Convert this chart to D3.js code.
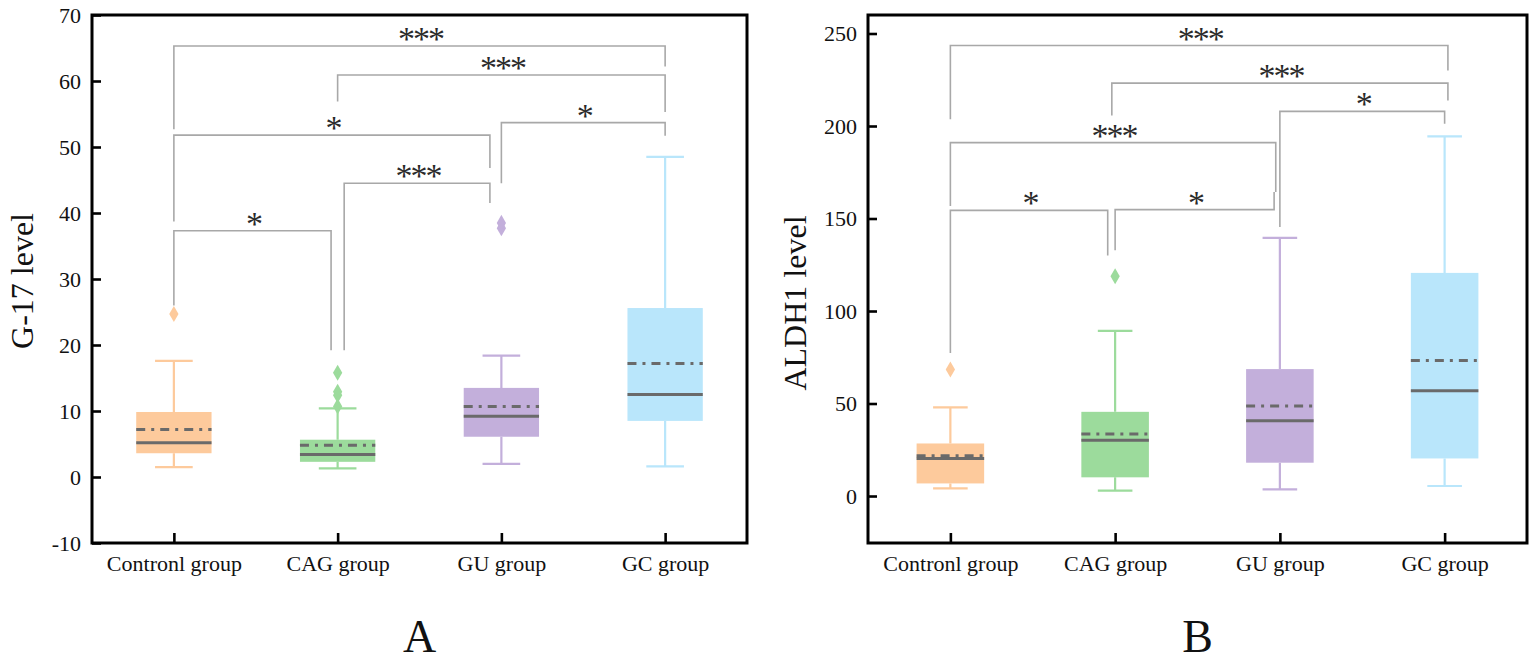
<!DOCTYPE html>
<html>
<head>
<meta charset="utf-8">
<script src="https://cdn.jsdelivr.net/npm/d3@7"></script>
<style>
  body { margin: 0; background: #fff; }
  text { font-family: "Liberation Serif", "DejaVu Serif", serif; }
</style>
</head>
<body>
<svg id="chart" width="1535" height="662"></svg>
<script>
// categories and colours
const groups = ['Contronl group', 'CAG group', 'GU group', 'GC group'];
const boxColors = ['#fdca9c', '#9cdb9c', '#c3afdb', '#b9e6fb'];

// panel A : G-17
const g17Ticks = [-10, 0, 10, 20, 30, 40, 50, 60, 70];
const g17Low = [1.5, 1.3, 2.0, 1.6];
const g17Q1 = [3.6, 2.3, 6.1, 8.5];
const g17Median = [5.2, 3.4, 9.2, 12.5];
const g17Mean = [7.2, 4.8, 10.7, 17.2];
const g17Q3 = [9.85, 5.65, 13.5, 25.6];
const g17High = [17.6, 10.4, 18.4, 48.5];
const g17Outliers = [[24.7], [10.7, 12.4, 12.9, 15.8], [37.7, 38.5], []];
const g17Pairs = [[0, 3], [1, 3], [2, 3], [0, 2], [1, 2], [0, 1]];
const g17BarY = [65.3, 60.9, 53.7, 51.8, 44.5, 37.3];
const g17LegEnd = [[52.7, 62.2], [56.9, 55.3], [44.5, 51.7], [38.7, 46.8], [19.2, 41.5], [26, 19.2]];
const g17Stars = ['***', '***', '*', '*', '***', '*'];
const g17Nudge = [[0, 0], [0, 0], [0, 0], [0, -0.07], [0.04, -0.07], [0, -0.04]];

// panel B : ALDH1
const aldhTicks = [0, 50, 100, 150, 200, 250];
const aldhLow = [4.1, 2.9, 3.6, 5.4];
const aldhQ1 = [6.8, 10.1, 18.0, 20.3];
const aldhMedian = [20.3, 30.2, 40.7, 56.9];
const aldhMean = [21.8, 33.5, 48.6, 73.3];
const aldhQ3 = [28.4, 45.5, 68.6, 120.6];
const aldhHigh = [47.9, 89.3, 139.5, 194.4];
const aldhOutliers = [[68.4], [118.8], [], []];
const aldhPairs = [[0, 3], [1, 3], [2, 3], [0, 2], [1, 2], [0, 1]];
const aldhBarY = [243.5, 223.2, 207.9, 191, 154.8, 154.4];
const aldhLegEnd = [[203.6, 230], [205.7, 213.8], [145.4, 201.2], [156.8, 164.3], [132.8, 164.3], [77.3, 130]];
const aldhStars = ['***', '***', '*', '***', '*', '*'];
const aldhNudge = [[0, 0.02], [-0.02, 0.02], [0, 0], [0, -0.025], [0, -0.035], [0, -0.045]];

const svg = d3.select('#chart');

function drawPanel(p) {
  const x = d3.scalePoint().domain(groups).range([p.left, p.right]).padding(0.5);
  const y = d3.scaleLinear().domain(p.domain).range([p.bottom, p.top]);
  const step = x.step();
  const g = svg.append('g');

  const boxes = groups.map((name, i) => ({
    name, i, low: p.low[i], q1: p.q1[i], median: p.median[i], mean: p.mean[i],
    q3: p.q3[i], high: p.high[i], outliers: p.outliers[i], color: boxColors[i]
  }));

  // significance brackets
  p.pairs.forEach(([a, b], k) => {
    const x1 = x(groups[a]) + p.nudge[k][0] * step;
    const x2 = x(groups[b]) + p.nudge[k][1] * step;
    const yb = y(p.barY[k]);
    g.append('path')
      .attr('d', `M${x1},${y(p.legEnd[k][0])}V${yb}H${x2}V${y(p.legEnd[k][1])}`)
      .attr('fill', 'none')
      .attr('stroke', '#a8a8a8')
      .attr('stroke-width', 1.6);
    g.append('text')
      .attr('x', (x1 + x2) / 2 + 1)
      .attr('y', yb + 4)
      .attr('text-anchor', 'middle')
      .attr('font-size', 34)
      .attr('letter-spacing', -2)
      .attr('fill', '#2a2a2a')
      .text(p.stars[k]);
  });

  const bw = p.boxFrac * step;
  const cw = p.capFrac * step;
  const bg = g.selectAll('.box').data(boxes).join('g').attr('class', 'box');

  // whiskers
  bg.append('path')
    .attr('d', d => {
      const cx = x(d.name);
      return `M${cx},${y(d.q1)}V${y(d.low)}M${cx - cw / 2},${y(d.low)}H${cx + cw / 2}` +
        `M${cx},${y(d.q3)}V${y(d.high)}M${cx - cw / 2},${y(d.high)}H${cx + cw / 2}`;
    })
    .attr('fill', 'none')
    .attr('stroke', d => d.color)
    .attr('stroke-width', 2.2);

  bg.append('rect')
    .attr('x', d => x(d.name) - bw / 2)
    .attr('width', bw)
    .attr('y', d => y(d.q3))
    .attr('height', d => y(d.q1) - y(d.q3))
    .attr('fill', d => d.color);

  bg.append('line')
    .attr('x1', d => x(d.name) - bw / 2)
    .attr('x2', d => x(d.name) + bw / 2)
    .attr('y1', d => y(d.median))
    .attr('y2', d => y(d.median))
    .attr('stroke', '#6a6a6a')
    .attr('stroke-width', 3);

  bg.append('line')
    .attr('x1', d => x(d.name) - bw / 2)
    .attr('x2', d => x(d.name) + bw / 2)
    .attr('y1', d => y(d.mean))
    .attr('y2', d => y(d.mean))
    .attr('stroke', '#6a6a6a')
    .attr('stroke-width', 3)
    .attr('stroke-dasharray', '9,6,3,6');

  const diamond = d3.symbol().type(d3.symbolDiamond).size(75);
  bg.selectAll('.outlier')
    .data(d => d.outliers.map(v => ({ v, name: d.name, color: d.color })))
    .join('path')
    .attr('class', 'outlier')
    .attr('d', diamond)
    .attr('transform', d => `translate(${x(d.name)},${y(d.v)})`)
    .attr('fill', d => d.color);

  // axes (ticks pointing inward)
  const yAxisG = g.append('g')
    .attr('transform', `translate(${p.left},0)`)
    .call(d3.axisLeft(y).tickValues(p.ticks).tickFormat(d => String(d)).tickSize(-9).tickPadding(11));
  const xAxisG = g.append('g')
    .attr('transform', `translate(0,${p.bottom})`)
    .call(d3.axisBottom(x).tickSize(-10).tickPadding(12));
  [yAxisG, xAxisG].forEach(a => {
    a.select('.domain').remove();
    a.selectAll('line').attr('stroke', '#000').attr('stroke-width', 2.6);
    a.selectAll('text')
      .attr('fill', '#111')
      .attr('font-size', 22)
      .style('font-family', '"Liberation Serif", serif');
  });

  g.append('rect')
    .attr('x', p.left)
    .attr('y', p.top)
    .attr('width', p.right - p.left)
    .attr('height', p.bottom - p.top)
    .attr('fill', 'none')
    .attr('stroke', '#000')
    .attr('stroke-width', 3);

  g.append('text')
    .attr('transform', `translate(${p.labelX},${(p.top + p.bottom) / 2 + p.labelDy}) rotate(-90)`)
    .attr('text-anchor', 'middle')
    .attr('font-size', 32)
    .attr('fill', '#111')
    .text(p.yLabel);

  g.append('text')
    .attr('x', (p.left + p.right) / 2)
    .attr('y', 652)
    .attr('text-anchor', 'middle')
    .attr('font-size', 46)
    .attr('fill', '#111')
    .text(p.letter);
}

drawPanel({
  left: 92, right: 747, top: 15, bottom: 543, domain: [-10, 70], ticks: g17Ticks,
  low: g17Low, q1: g17Q1, median: g17Median, mean: g17Mean, q3: g17Q3, high: g17High,
  outliers: g17Outliers, pairs: g17Pairs, barY: g17BarY, legEnd: g17LegEnd,
  stars: g17Stars, nudge: g17Nudge, boxFrac: 0.46, capFrac: 0.23,
  yLabel: 'G-17 level', labelX: 33, labelDy: 2, letter: 'A'
});

drawPanel({
  left: 868, right: 1527, top: 15, bottom: 543, domain: [-25.4, 260], ticks: aldhTicks,
  low: aldhLow, q1: aldhQ1, median: aldhMedian, mean: aldhMean, q3: aldhQ3, high: aldhHigh,
  outliers: aldhOutliers, pairs: aldhPairs, barY: aldhBarY, legEnd: aldhLegEnd,
  stars: aldhStars, nudge: aldhNudge, boxFrac: 0.41, capFrac: 0.21,
  yLabel: 'ALDH1 level', labelX: 806, labelDy: 24, letter: 'B'
});
</script>
</body>
</html>
